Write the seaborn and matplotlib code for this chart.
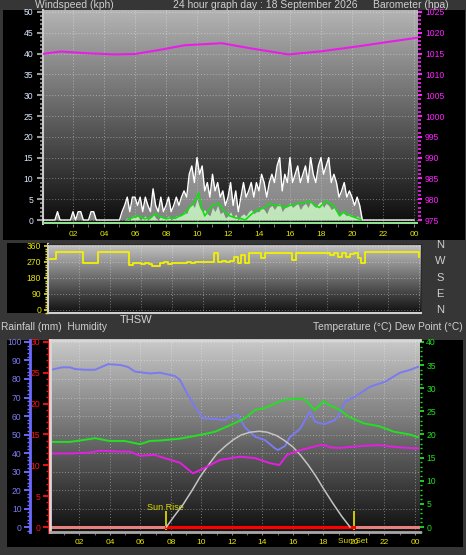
import numpy as np
import pandas as pd
import matplotlib
matplotlib.use("Agg")
import matplotlib.pyplot as plt
import seaborn as sns
from matplotlib.ticker import MultipleLocator
from matplotlib.colors import LinearSegmentedColormap
from matplotlib.patches import Rectangle

plt.rcParams["font.family"] = ["Liberation Sans", "DejaVu Sans"]

# ------------------------------------------------------------------ data
hour_ticks = [2, 4, 6, 8, 10, 12, 14, 16, 18, 20, 22, 24]
hour_labels = ["02", "04", "06", "08", "10", "12", "14", "16", "18", "20", "22", "00"]

# wind gust (kph), 10-minute steps from 00:00
wind_gust = [
    0, 0, 0, 0, 0, 0,
    2, 0, 0, 0, 0, 0,
    2, 0, 2, 2, 0, 0,
    0, 2, 2, 0, 0, 0,
    0, 0, 0, 0, 0, 0,
    0, 2, 3.5, 5.5, 2, 5.5,
    5.5, 3.5, 5.5, 2, 5.5, 3.5,
    2, 7.5, 3.5, 2, 5.5, 2,
    3.5, 5.5, 2, 3.5, 5.5, 3.5,
    5.5, 7, 5.5, 11, 13, 9,
    15, 11, 13, 7, 9, 5.5,
    11, 7, 9, 5.5, 7, 3.5,
    5.5, 9, 3.5, 7, 2, 5.5,
    9, 5.5, 7, 9, 5.5, 9,
    7, 11, 9, 5.5, 9, 11,
    9, 13, 15, 7, 11, 9,
    15, 9, 11, 13, 9, 11,
    13, 9, 15, 11, 9, 13,
    15, 11, 13, 15, 9, 11,
    9, 5.5, 7, 9, 5.5, 7,
    5.5, 3.5, 5.5, 3.5, 0, 0,
    0, 0, 0, 0, 0, 0,
    0, 0, 0, 0, 0, 0,
    0, 0, 0, 0, 0, 0,
    0]
# wind average (kph), 10-minute steps
wind_avg = [
    0, 0, 0, 0, 0, 0,
    0, 0, 0, 0, 0, 0,
    0, 0, 0, 0, 0, 0,
    0, 0, 0, 0, 0, 0,
    0, 0, 0, 0, 0, 0,
    0, 0, 0, 0.5, 0, 1,
    0.5, 1, 0, 0.5, 1, 0,
    0.5, 1.5, 0.5, 0, 1, 0.5,
    0.5, 1, 0, 0.5, 1, 1,
    1, 2, 1.5, 3, 4, 3,
    5, 3, 2, 2.5, 1.5, 1,
    3, 2, 3.5, 1.5, 2, 0.5,
    1, 2, 0.5, 1.5, 0, 1,
    1.5, 1, 2, 2.5, 1.5, 2,
    2, 3, 2.5, 1.5, 3, 3.5,
    2.5, 3.5, 4, 2, 3, 3.5,
    4, 3, 3.5, 4, 2.5, 3.5,
    4, 3, 4.5, 3.5, 3, 4,
    4.5, 3, 4, 3.5, 2.5, 3,
    2, 1, 2, 1.5, 1, 1.5,
    1, 0.5, 1, 0.5, 0, 0,
    0, 0, 0, 0, 0, 0,
    0, 0, 0, 0, 0, 0,
    0, 0, 0, 0, 0, 0,
    0]
# smoothed average wind (green line)
wind_line_hours = [5.5, 5.8, 6.2, 6.6, 7.0, 7.3, 7.6, 8.0, 8.3, 8.6, 8.9, 9.2, 9.5, 9.8,
                   10.1, 10.3, 10.5, 10.8, 11.0, 11.4, 11.8, 12.1, 12.5, 12.9, 13.1, 13.4,
                   13.7, 14.0, 14.4, 14.7, 15.0, 15.4, 15.7, 16.0, 16.3, 16.6, 17.0, 17.3,
                   17.6, 17.9, 18.3, 18.6, 18.9, 19.2, 19.5, 19.9, 20.3, 20.6]
wind_line_kph = [0, 0.5, 1, 0.3, 0.5, 1.5, 0.8, 0.3, 0.5, 0.4, 1, 1.5, 3, 4,
                 6.5, 3, 1, 2.5, 3.5, 4, 2, 1, 0.5, 0.3, 0, 1,
                 2, 2.5, 3, 4, 3.5, 3.5, 3, 3.5, 3.8, 4, 4.2, 4.5,
                 3.5, 3, 4.5, 4, 3, 1, 2, 1, 0.5, 0]

baro_hours = [0.0, 1.2, 2.8, 4.7, 6.0, 7.6, 9.2, 11.6, 13.4, 15.9, 17.9, 20.5, 22.5, 24.2]
baro_hpa = [1014.9, 1015.5, 1015.1, 1014.8, 1014.9, 1015.9, 1017.0, 1017.5, 1016.3,
            1014.8, 1015.5, 1016.8, 1017.9, 1018.8]

# wind direction (degrees), 15-minute steps
wind_dir = [287, 287, 328, 328, 328, 326, 326, 326, 326, 262, 265, 265,
            266, 326, 326, 326, 326, 326, 326, 326, 326, 255, 262, 262,
            260, 262, 258, 250, 250, 262, 268, 260, 265, 262, 266, 264,
            268, 266, 270, 268, 270, 272, 268, 320, 272, 274, 270, 275,
            300, 265, 310, 262, 320, 318, 322, 290, 320, 318, 322, 320,
            322, 318, 320, 280, 320, 322, 320, 322, 318, 320, 322, 320,
            318, 310, 320, 300, 318, 296, 315, 320, 295, 265, 325, 326,
            326, 326, 326, 326, 326, 326, 326, 326, 326, 326, 326, 326,
            300]

hum_hours = [0.26, 0.85, 1.38, 1.70, 2.36, 3.02, 3.87, 4.66, 5.18, 5.64, 6.62, 7.28,
             8.26, 8.59, 9.11, 9.57, 10.10, 10.89, 11.54, 12.00, 12.39, 12.85, 13.51,
             14.16, 14.82, 15.02, 15.48, 15.80, 16.46, 17.11, 17.44, 17.77, 18.10,
             18.75, 19.08, 19.41, 20.07, 21.05, 22.03, 23.02, 23.67, 24.20]
humidity = [85.2, 86.3, 86.3, 85.4, 85.0, 85.0, 88.0, 87.6, 86.5, 84.0, 83.0, 83.4,
            81.6, 79.5, 71.4, 65.0, 58.8, 58.4, 57.8, 60.0, 60.5, 53.9, 48.8,
            47.0, 42.5, 41.6, 43.8, 48.6, 53.0, 62.5, 57.0, 56.0, 55.7,
            57.8, 61.6, 67.7, 70.4, 75.8, 78.5, 83.4, 84.9, 86.6]

temp_hours = [0.26, 1.38, 2.03, 3.02, 3.97, 4.95, 5.97, 6.62, 7.28, 8.59, 9.90, 10.89,
              11.87, 12.85, 13.51, 14.16, 14.82, 15.48, 16.46, 16.79, 17.44, 17.77,
              18.00, 18.36, 19.08, 19.67, 20.66, 21.64, 22.62, 23.67, 24.20]
temperature = [18.4, 18.4, 18.7, 19.2, 18.6, 18.6, 17.9, 18.6, 18.7, 19.1, 19.9, 20.6,
               22.0, 23.5, 25.3, 25.7, 26.7, 27.5, 27.8, 27.5, 25.3, 26.4,
               27.2, 26.4, 25.3, 23.8, 22.4, 21.8, 20.6, 20.0, 19.4]

dew_hours = [0.26, 1.38, 2.69, 3.34, 4.66, 5.31, 5.97, 6.95, 7.28, 8.59, 9.44, 10.16,
             11.21, 12.52, 13.51, 14.49, 15.11, 15.61, 16.46, 17.77, 18.10, 18.43,
             19.08, 20.39, 21.64, 23.02, 24.20]
dew_point = [15.9, 15.9, 16.1, 16.5, 16.3, 16.3, 15.4, 15.6, 15.2, 13.9, 11.6, 12.7,
             14.5, 15.2, 14.9, 13.8, 13.4, 15.6, 16.6, 17.7, 17.7, 17.2,
             17.1, 17.5, 17.7, 17.2, 17.0]

sun_hours = [7.7, 8.2, 8.8, 9.4, 9.9, 10.5, 11.0, 11.6, 12.1, 12.6, 13.2, 13.8, 14.3,
             14.9, 15.4, 16.0, 16.5, 17.0, 17.5, 18.0, 18.6, 19.2, 19.74]
thsw = [0, 2.3, 4.9, 8.0, 10.8, 13.6, 15.8, 17.6, 18.9, 19.9, 20.5, 20.7, 20.5,
        19.8, 18.8, 17.3, 15.5, 13.4, 11.0, 8.3, 5.2, 2.3, 0]

rain_hours = [0.2, 24.2]
rain_mm = [0, 0]
sunrise_hour = 7.7
sunset_hour = 20.0

# ------------------------------------------------------------------ figure
W, H = 466, 555
fig = plt.figure(figsize=(W / 100, H / 100), dpi=100, facecolor="#363636")


def rect(x0, y0, x1, y1, color):
    fig.add_artist(Rectangle((x0 / W, 1 - y1 / H), (x1 - x0) / W, (y1 - y0) / H,
                             transform=fig.transFigure, facecolor=color,
                             edgecolor="none", zorder=-5))


def px_axes(x0, y0, x1, y1):
    return fig.add_axes([x0 / W, 1 - y1 / H, (x1 - x0) / W, (y1 - y0) / H])


def gradient(ax, top, bottom):
    cmap = LinearSegmentedColormap.from_list("g", [bottom, top])
    grad = np.linspace(1, 0, 256).reshape(-1, 1)
    ax.imshow(grad, cmap=cmap, extent=[0, 1, 0, 1], transform=ax.transAxes,
              aspect="auto", zorder=-10, origin="upper", interpolation="bilinear")


def fig_text(x, y, s, **kw):
    kw.setdefault("color", "#cfcfcf")
    kw.setdefault("size", 7.5)
    kw.setdefault("va", "center")
    fig.text(x / W, 1 - y / H, s, **kw)


grid_kw = dict(color="white", alpha=0.38, ls=(0, (1, 2)), lw=0.7)
YELLOW = "#e6e600"

# black panel boxes
rect(3, 10, 465, 240, "black")
rect(7, 243, 48, 313, "black")
rect(7, 340, 463, 547, "black")

# ------------------------------------------------------------------ top panel: wind + barometer
ax_w = px_axes(43, 10, 418, 224)
gradient(ax_w, "#b4b4b4", "#0c0c0c")
t10 = np.arange(len(wind_gust)) / 6.0
ax_w.fill_between(t10, wind_gust, color="#e4e4e4", alpha=0.55, lw=0, zorder=2)
sns.lineplot(x=t10, y=wind_gust, ax=ax_w, color="white", lw=1.0,
             estimator=None, legend=False, zorder=3)
ax_w.fill_between(t10, wind_avg, color="#c6f2c0", alpha=0.9, lw=0, zorder=4)
sns.lineplot(x=wind_line_hours, y=wind_line_kph, ax=ax_w, color="#12e012", lw=1.2,
             estimator=None, legend=False, zorder=5)
ax_w.axhline(-0.6, color="#8fe08f", lw=2.2, zorder=6)
ax_w.set_xlim(0.065, 24.26)
ax_w.set_ylim(-0.96, 50.48)
ax_w.set_xticks(hour_ticks)
ax_w.set_xticklabels(hour_labels)
ax_w.xaxis.set_minor_locator(MultipleLocator(1))
ax_w.yaxis.set_major_locator(MultipleLocator(5))
ax_w.yaxis.set_minor_locator(MultipleLocator(1))
ax_w.tick_params(axis="x", which="both", colors="#888888", labelcolor=YELLOW,
                 labelsize=6, length=2, pad=3)
ax_w.tick_params(axis="y", which="major", colors="#9a9a9a", labelcolor="#dce8ff",
                 labelsize=6.2, length=4, width=1.5, pad=3)
ax_w.tick_params(axis="y", which="minor", colors="#9a9a9a", length=2, width=1.2)
ax_w.grid(True, which="major", **grid_kw)
for s in ["top", "right", "bottom"]:
    ax_w.spines[s].set_visible(False)
ax_w.spines["left"].set_color("#c8c8c8")
ax_w.spines["left"].set_linewidth(1.5)
ax_w.set_xlabel("")
ax_w.set_ylabel("")

ax_b = ax_w.twinx()
sns.lineplot(x=baro_hours, y=baro_hpa, ax=ax_b, color="#e81ee8", lw=1.5,
             estimator=None, legend=False)
ax_b.set_ylim(974.04, 1025.48)
ax_b.yaxis.set_major_locator(MultipleLocator(5))
ax_b.yaxis.set_minor_locator(MultipleLocator(1))
ax_b.tick_params(axis="y", which="major", colors="#ff20ff", labelcolor="#ff20ff",
                 labelsize=6.2, length=3, width=1.5, pad=2)
ax_b.tick_params(axis="y", which="minor", colors="#ff20ff", length=2, width=1.2)
for s in ax_b.spines.values():
    s.set_visible(False)
ax_b.set_ylabel("")

# ------------------------------------------------------------------ middle panel: wind direction
ax_d = px_axes(48, 244, 421, 313)
gradient(ax_d, "#c4c4c4", "#101010")
t15 = np.arange(len(wind_dir)) * 0.25
sns.lineplot(x=t15, y=wind_dir, ax=ax_d, color="#f2f200", lw=1.3,
             drawstyle="steps-post", estimator=None, legend=False)
ax_d.set_xlim(0, 24.1)
ax_d.set_ylim(-16.9, 371)
ax_d.set_yticks([0, 90, 180, 270, 360])
ax_d.yaxis.set_minor_locator(MultipleLocator(15))
ax_d.set_xticks(hour_ticks)
ax_d.tick_params(axis="x", which="both", length=0, labelbottom=False)
ax_d.tick_params(axis="y", which="major", colors=YELLOW, labelcolor=YELLOW,
                 labelsize=6.2, length=3, width=1.2, pad=2)
ax_d.tick_params(axis="y", which="minor", colors=YELLOW, length=2, width=1)
ax_d.grid(True, which="major", **grid_kw)
for s in ["top", "right"]:
    ax_d.spines[s].set_color("#2a2a2a")
ax_d.spines["left"].set_color("#d0d0d0")
ax_d.spines["left"].set_linewidth(1.5)
ax_d.spines["bottom"].set_color("#d0d0d0")
ax_d.spines["bottom"].set_linewidth(1.5)
ax_d.set_xlabel("")
ax_d.set_ylabel("")
for lab, yy in zip(["N", "W", "S", "E", "N"], [245, 261, 278, 294, 310]):
    fig_text(440, yy, lab, ha="center", size=8)

# ------------------------------------------------------------------ bottom panel
ax_h = px_axes(50, 340, 420, 532)
gradient(ax_h, "#cacaca", "#101010")
ax_h.set_xlim(0.066, 24.33)
ax_h.set_ylim(-2.70, 101.08)
sns.lineplot(x=hum_hours, y=humidity, ax=ax_h, color="#7a7af2", lw=1.4,
             estimator=None, legend=False, zorder=3)
ax_h.vlines([sunrise_hour, sunset_hour], -1.6, 8.6, color=YELLOW, lw=1.2, zorder=6)
ax_h.text(7.6, 10.4, "Sun Rise", ha="center", va="center", color="#d8d800", size=6.5)
ax_h.text(sunset_hour - 0.1, -0.052, "Sun Set", transform=ax_h.get_xaxis_transform(),
          ha="center", va="center", color="#d8d800", size=6)
ax_h.set_xticks(hour_ticks)
ax_h.set_xticklabels(hour_labels)
ax_h.xaxis.set_minor_locator(MultipleLocator(1))
ax_h.yaxis.set_major_locator(MultipleLocator(10))
ax_h.yaxis.set_minor_locator(MultipleLocator(2))
ax_h.tick_params(axis="x", which="both", colors="#888888", labelcolor=YELLOW,
                 labelsize=6, length=2, pad=3)
ax_h.tick_params(axis="y", which="major", colors="#7070ff", labelcolor="#7c7cf0",
                 labelsize=6.2, length=4, width=1.3, pad=2)
ax_h.tick_params(axis="y", which="minor", colors="#7070ff", length=2, width=1)
ax_h.grid(True, which="major", **grid_kw)
ax_h.spines["left"].set_position(("axes", -0.054))
ax_h.spines["left"].set_color("#6a6aff")
ax_h.spines["left"].set_linewidth(2)
for s in ["top", "right", "bottom"]:
    ax_h.spines[s].set_visible(False)
ax_h.set_xlabel("")
ax_h.set_ylabel("")

ax_r = ax_h.twinx()
ax_r.yaxis.tick_left()
ax_r.yaxis.set_label_position("left")
ax_r.set_ylim(-0.81, 30.32)
sns.lineplot(x=rain_hours, y=rain_mm, ax=ax_r, color="#e88080", lw=2.2,
             estimator=None, legend=False)
sns.lineplot(x=[sunrise_hour, sunset_hour], y=[0, 0], ax=ax_r, color="#ff0000", lw=2.2,
             estimator=None, legend=False)
ax_r.yaxis.set_major_locator(MultipleLocator(5))
ax_r.yaxis.set_minor_locator(MultipleLocator(1))
ax_r.tick_params(axis="y", which="major", colors="#ff1010", labelcolor="#ff1010",
                 labelsize=6.2, length=4, width=1.3, pad=2)
ax_r.tick_params(axis="y", which="minor", colors="#ff1010", length=2, width=1)
ax_r.spines["left"].set_visible(True)
ax_r.spines["left"].set_position(("axes", -0.004))
ax_r.spines["left"].set_color("#ff0000")
ax_r.spines["left"].set_linewidth(2)
for s in ["top", "right", "bottom"]:
    ax_r.spines[s].set_visible(False)
ax_r.set_ylabel("")

ax_t = ax_h.twinx()
ax_t.set_ylim(-1.08, 40.43)
sns.lineplot(x=sun_hours, y=thsw, ax=ax_t, color="#c4c4c4", lw=1.1,
             estimator=None, legend=False)
sns.lineplot(x=dew_hours, y=dew_point, ax=ax_t, color="#e41ee4", lw=1.4,
             estimator=None, legend=False)
sns.lineplot(x=temp_hours, y=temperature, ax=ax_t, color="#22e022", lw=1.4,
             estimator=None, legend=False)
ax_t.yaxis.set_major_locator(MultipleLocator(5))
ax_t.yaxis.set_minor_locator(MultipleLocator(1))
ax_t.tick_params(axis="y", which="major", colors="#20e020", labelcolor="#20e020",
                 labelsize=6.2, length=3, width=1.3, pad=1.5)
ax_t.tick_params(axis="y", which="minor", colors="#20e020", length=1.5, width=1)
ax_t.spines["right"].set_visible(False)
ax_t.spines["left"].set_color("#d8d8d8")
ax_t.spines["left"].set_linewidth(2)
ax_t.spines["top"].set_color("#d8d8d8")
ax_t.spines["top"].set_linewidth(2)
ax_t.spines["bottom"].set_color("#a8a8a8")
ax_t.spines["bottom"].set_linewidth(2)
ax_t.set_ylabel("")

# ------------------------------------------------------------------ texts
fig_text(35, 5, "Windspeed (kph)", ha="left")
fig_text(173, 5, "24 hour graph day : 18 September 2026", ha="left")
fig_text(373, 5, "Barometer (hpa)", ha="left")
fig_text(1, 327, "Rainfall (mm)  Humidity", ha="left", size=7.3)
fig_text(120, 320, "THSW", ha="left", size=8)
fig_text(463, 327, "Temperature (°C) Dew Point (°C)", ha="right", size=7.4)

fig.savefig("out.png", dpi=100, facecolor=fig.get_facecolor())
